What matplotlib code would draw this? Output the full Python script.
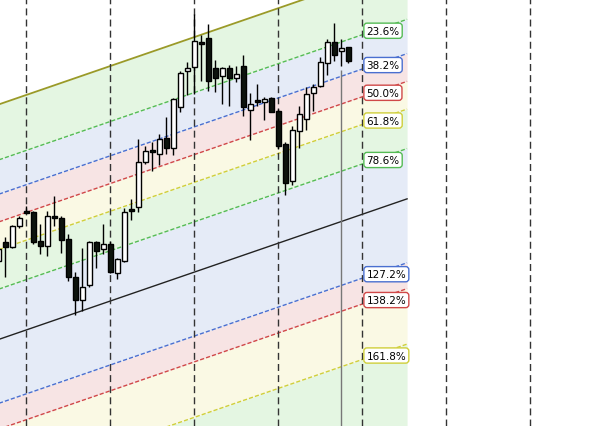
import matplotlib.pyplot as plt
import numpy as np

# OHLC values (price points), one bar per entry
opens = [165, 184, 179, 200, 215, 214, 185, 180, 210, 208,
         187, 149, 126, 141, 184, 177, 182, 153, 165, 217,
         219, 264, 276, 272, 288, 278, 319, 355, 359, 384,
         388, 358, 350, 358, 348, 360, 316, 326, 324, 328,
         315, 282, 245, 295, 307, 333, 340, 363, 384, 375, 379]
highs = [182, 189, 201, 210, 220, 215, 202, 215, 230, 210,
         192, 154, 178, 185, 185, 202, 185, 168, 218, 227,
         287, 280, 284, 292, 309, 328, 355, 364, 412, 391,
         402, 366, 359, 361, 360, 371, 333, 342, 329, 329,
         317, 284, 300, 320, 339, 342, 369, 387, 403, 387, 379]
lows = [150, 149, 178, 198, 213, 182, 172, 170, 200, 173,
        145, 111, 115, 139, 158, 172, 153, 147, 164, 206,
        214, 262, 255, 261, 272, 271, 314, 331, 332, 345,
        335, 334, 322, 320, 344, 310, 286, 320, 306, 314,
        277, 231, 241, 278, 296, 315, 339, 351, 365, 360, 363]
closes = [177, 179, 200, 208, 213, 184, 180, 210, 208, 186,
          149, 126, 139, 184, 175, 182, 154, 167, 214, 215,
          264, 275, 274, 287, 278, 327, 353, 358, 385, 382,
          345, 348, 358, 348, 352, 319, 322, 324, 327, 314,
          280, 243, 296, 312, 332, 339, 364, 384, 371, 378, 365]

# Fibonacci channel
channel_start = 86.4      # 100% line value at bar 0
channel_slope = 2.41      # per bar
channel_width = 235.0     # distance 0% -> 100%
channel_end = 58.4        # last bar of the channel
levels = [0, 23.6, 38.2, 50.0, 61.8, 78.6, 100, 127.2, 138.2, 161.8, 200]
line_colors = ["#9a9a28", "#55bb55", "#4a6fd0", "#d04848", "#cfcf3a", "#55bb55",
               "#222222", "#4a6fd0", "#d04848", "#cfcf3a", "#55bb55"]
band_colors = ["#e4f6e2", "#e5ebf7", "#f7e4e4", "#faf9e4", "#e4f6e2",
               "#e5ebf7", "#e5ebf7", "#f7e4e4", "#faf9e4", "#e4f6e2"]
labeled = [23.6, 38.2, 50.0, 61.8, 78.6, 127.2, 138.2, 161.8]

grid_bars = [4, 16, 28, 40, 52, 64, 76]
marker_bar = 49
label_bar = 52


def level_value(lvl, x):
    base = channel_start + channel_slope * np.asarray(x)
    return base + channel_width * (1 - lvl / 100.0)


fig = plt.figure(figsize=(6.01, 4.27), dpi=100)
ax = fig.add_axes([0, 0, 1, 1])
ax.set_xlim(0.25, 86.1)
ax.set_ylim(0, 427)
ax.axis("off")

ch_x = np.array([-2, channel_end])

# bands
for k in range(len(levels) - 1):
    ax.fill_between(ch_x, level_value(levels[k], ch_x), level_value(levels[k + 1], ch_x),
                    color=band_colors[k], lw=0, zorder=1)

# level lines
for lvl, col in zip(levels, line_colors):
    if lvl == 0:
        ax.plot(ch_x, level_value(lvl, ch_x), color=col, lw=1.3, zorder=2)
    elif lvl == 100:
        ax.plot(ch_x, level_value(lvl, ch_x), color=col, lw=1.0, zorder=2)
    else:
        ax.plot(ch_x, level_value(lvl, ch_x), color=col, lw=1.0,
                dashes=(3, 1.5), zorder=2)

# vertical dashed grid
for gx in grid_bars:
    ax.axvline(gx, color="#333333", lw=1.0, dashes=(5, 3), zorder=3)

# marker line
ax.vlines(marker_bar, 0, 356, color="#777777", lw=1.0, zorder=3)

# labels
for lvl, col in zip(levels, line_colors):
    if lvl in labeled:
        ax.text(label_bar + 0.6, level_value(lvl, label_bar) - 1.0, f"{lvl:.1f}%",
                fontsize=7.5, ha="left", va="bottom", color="black", zorder=6,
                bbox=dict(boxstyle="round,pad=0.25,rounding_size=0.3",
                          fc="white", ec=col, lw=1.0))

# candles
bars = np.arange(len(opens))
o = np.array(opens)
c = np.array(closes)
ax.vlines(bars, lows, highs, color="black", lw=1.0, zorder=4)
bottoms = np.minimum(o, c)
heights = np.maximum(np.abs(c - o), 1.5)
face = np.where(c >= o, "white", "#0d130d")
ax.bar(bars, heights, bottom=bottoms, width=0.72, color=face,
       edgecolor="black", linewidth=1.0, zorder=5)

fig.savefig("out.png", dpi=100)
